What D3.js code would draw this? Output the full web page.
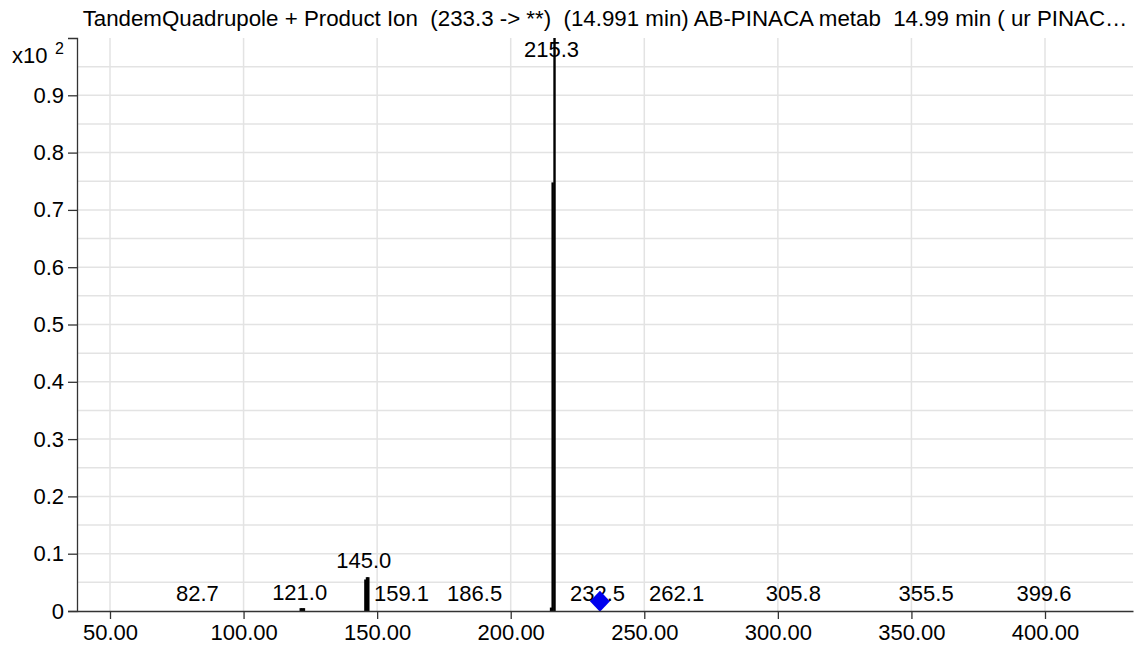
<!DOCTYPE html>
<html>
<head>
<meta charset="utf-8">
<script src="https://cdn.jsdelivr.net/npm/d3@7"></script>
<style>
  body { margin: 0; background: white; }
  text { font-family: "Liberation Sans", Arial, sans-serif; fill: #000; }
</style>
</head>
<body>
<div id="chart"></div>
<script>
// Spectrum data (abundance in units of x10^2)
var title = "TandemQuadrupole + Product Ion  (233.3 -> **)  (14.991 min) AB-PINACA metab  14.99 min ( ur PINAC\u2026";

// sticks as drawn
var stickMz    = [121.4, 122.0, 122.6, 145.6, 146.2, 146.7, 215.1, 215.7, 216.4];
var stickAbund = [0.005, 0.005, 0.005, 0.055, 0.059, 0.059, 0.006, 0.748, 1.0];

// peak labels
var labelMz    = [82.7, 121.0, 145.0, 159.1, 186.5, 215.3, 232.5, 262.1, 305.8, 355.5, 399.6];
var labelAbund = [0.0, 0.002, 0.058, 0.0, 0.0, 1.0, 0.0, 0.0, 0.0, 0.0, 0.0];

// precursor marker
var precursorMz = 233.4;
var precursorAbund = 0.017;

var xTicks = [50, 100, 150, 200, 250, 300, 350, 400];
var yTicks = [0, 0.1, 0.2, 0.3, 0.4, 0.5, 0.6, 0.7, 0.8, 0.9];
var yGrid = d3.range(1, 20).map(function(i) { return i * 0.05; });

var width = 1138, height = 651;
var plotLeft = 77, plotRight = 1133, plotTop = 38, plotBottom = 611;

var svg = d3.select("#chart").append("svg")
    .attr("width", width)
    .attr("height", height);

var x = d3.scaleLinear().domain([37.65, 432.94]).range([plotLeft, plotRight]);
var y = d3.scaleLinear().domain([0, 1.0]).range([plotBottom, plotTop]);

// grid
svg.append("g").selectAll("line")
    .data(yGrid).enter().append("line")
    .attr("x1", plotLeft).attr("x2", plotRight)
    .attr("y1", d => y(d)).attr("y2", d => y(d))
    .attr("stroke", "#e3e3e3").attr("stroke-width", 1.5);

svg.append("g").selectAll("line")
    .data(xTicks).enter().append("line")
    .attr("x1", d => x(d)).attr("x2", d => x(d))
    .attr("y1", plotTop).attr("y2", plotBottom)
    .attr("stroke", "#e3e3e3").attr("stroke-width", 1.5);

// title
svg.append("text")
    .attr("x", (plotLeft + plotRight) / 2)
    .attr("y", 26)
    .attr("text-anchor", "middle")
    .attr("font-size", 22.3)
    .style("white-space", "pre")
    .text(title);

// sticks
svg.append("g").selectAll("rect")
    .data(stickMz).enter().append("rect")
    .attr("x", d => x(d) - 1.2)
    .attr("width", 2.4)
    .attr("y", (d, i) => y(stickAbund[i]))
    .attr("height", (d, i) => plotBottom - y(stickAbund[i]))
    .attr("fill", "#000");

// peak labels
svg.append("g").selectAll("text")
    .data(labelMz).enter().append("text")
    .attr("x", d => x(d))
    .attr("y", (d, i) => Math.max(y(labelAbund[i]) - 10, plotTop + 19))
    .attr("text-anchor", "middle")
    .attr("font-size", 22)
    .text(d => d.toFixed(1));

// precursor diamond
var px = x(precursorMz), py = y(precursorAbund);
svg.append("path")
    .attr("d", `M${px},${py - 10.5}L${px + 10},${py}L${px},${py + 10.5}L${px - 10},${py}Z`)
    .attr("fill", "#0000ee");

// axes
var xAxis = d3.axisBottom(x).tickValues(xTicks).tickFormat(d3.format(".2f"))
    .tickSizeInner(8).tickSizeOuter(0).tickPadding(5);
var yAxis = d3.axisLeft(y).tickValues(yTicks).tickFormat(d => d === 0 ? "0" : d3.format(".1f")(d))
    .tickSizeInner(9).tickSizeOuter(9).tickPadding(4);

var gx = svg.append("g")
    .attr("transform", `translate(0,${plotBottom})`)
    .call(xAxis);
var gy = svg.append("g")
    .attr("transform", `translate(${plotLeft},0)`)
    .call(yAxis);

[gx, gy].forEach(function(g) {
    g.selectAll("path, line").attr("stroke", "#333").attr("stroke-width", 1.3);
    g.selectAll("text").attr("font-size", 22).attr("font-family", "Liberation Sans, Arial, sans-serif").attr("fill", "#000");
});

// multiplier label
var mult = svg.append("text").attr("x", 12).attr("y", 63).attr("font-size", 22);
mult.append("tspan").text("x10");
mult.append("tspan").attr("x", 55).attr("y", 54).attr("font-size", 16).text("2");
</script>
</body>
</html>
